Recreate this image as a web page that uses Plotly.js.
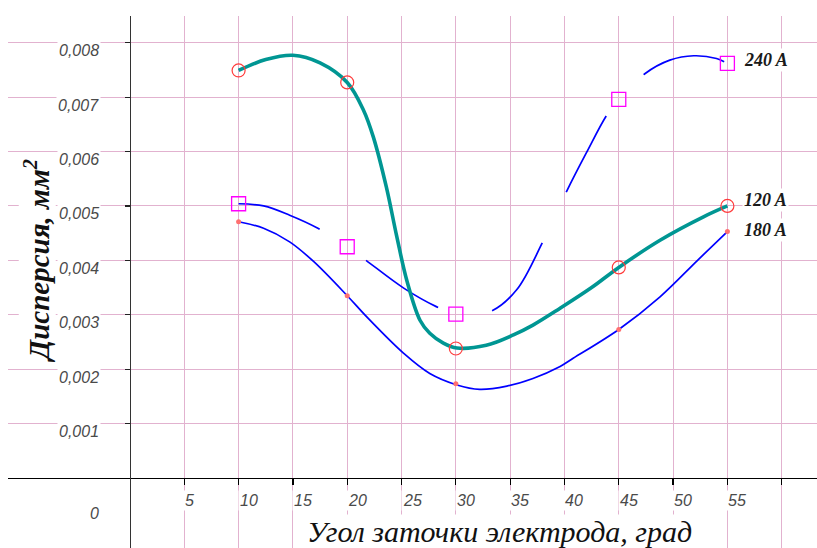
<!DOCTYPE html>
<html>
<head>
<meta charset="utf-8">
<script src="https://cdn.plot.ly/plotly-3.0.1.min.js"></script>
<style>
html,body{margin:0;padding:0;background:#fff;}
#chart{width:817px;height:548px;}
</style>
</head>
<body>
<div id="chart"></div>
<script>
// ---- data (dispersion in mm^2, angle in degrees) ----
const angles = [10, 20, 30, 45, 55];
const disp120 = [0.00749, 0.00727, 0.00238, 0.00387, 0.00500];
const disp180 = [0.00471, 0.00335, 0.00173, 0.00273, 0.00453];
const disp240 = [0.00504, 0.00425, 0.00301, 0.00696, 0.00762];

// curves as drawn in the picture
const curve120X = [10, 12.5, 15, 17.5, 20, 21.5, 22.4, 23.6, 24.55, 25.5, 26.7, 27.6, 28.85, 30.1, 32.8, 35.3, 37.1, 39.6, 42.5, 45, 48.8, 52.8, 55];
const curve120Y = [0.00749, 0.00769, 0.00777, 0.00763, 0.00727, 0.00676, 0.00627, 0.00535, 0.00445, 0.00362, 0.00290, 0.00266, 0.00248, 0.00239, 0.00244, 0.00263, 0.00281, 0.00312, 0.00350, 0.00387, 0.00437, 0.00480, 0.00500];
const curve180X = [10, 12.3, 14.7, 16.9, 20, 21.8, 25.2, 27.6, 30.1, 32.2, 34.7, 37.1, 39.6, 40.8, 45, 48.8, 52.3, 55];
const curve180Y = [0.00471, 0.00459, 0.00434, 0.00398, 0.00335, 0.00296, 0.00229, 0.00192, 0.00171, 0.00163, 0.00169, 0.00183, 0.00205, 0.00220, 0.00273, 0.00333, 0.00401, 0.00453];
const curve240X = [10, 12.3, 14.7, 17.3, 20, 21.6, 25.2, 28.2, 30, 31.5, 33.3, 35.6, 38, 40.2, 42, 43.9, 45, 47.4, 49.7, 51.9, 54, 55];
const curve240Y = [0.00504, 0.00500, 0.00483, 0.00459, 0.00425, 0.00402, 0.00349, 0.00315, 0.00301, 0.00300, 0.00307, 0.00346, 0.00434, 0.00527, 0.00597, 0.00667, 0.00696, 0.00743, 0.00768, 0.00776, 0.00771, 0.00762];

const seriesNames = ['120 A', '180 A', '240 A'];

// ---- axes / ticks ----
const xGridVals = [5, 10, 15, 20, 25, 30, 35, 40, 45, 50, 55, 60];
const xTickVals = [5, 10, 15, 20, 25, 30, 35, 40, 45, 50, 55];
const xTickText = ['5', '10', '15', '20', '25', '30', '35', '40', '45', '50', '55'];
const yTickVals = [0.001, 0.002, 0.003, 0.004, 0.005, 0.006, 0.007, 0.008];
const yTickText = ['0,001', '0,002', '0,003', '0,004', '0,005', '0,006', '0,007', '0,008'];
const originLabel = '0';
const xTitle = 'Угол заточки электрода, град';
const yTitle = 'Дисперсия, мм<sup>2</sup>';

const BLUE = '#0000ff', TEAL = '#009693';
const tickFont = {family: '"Liberation Sans", Arial, sans-serif', size: 16, color: '#4a4a4a', style: 'italic'};
const serifBI = {family: '"Liberation Serif", "DejaVu Serif", serif', size: 18, color: '#1a1a1a', style: 'italic', weight: 'bold'};

const traces = [
  {x: curve180X, y: curve180Y, mode: 'lines', line: {color: BLUE, width: 1.7, shape: 'spline', smoothing: 1}, hoverinfo: 'skip'},
  {x: curve240X, y: curve240Y, mode: 'lines', line: {color: BLUE, width: 1.7, shape: 'spline', smoothing: 1, dash: '86px,56px'}, hoverinfo: 'skip'},
  {x: curve120X, y: curve120Y, mode: 'lines', line: {color: TEAL, width: 3.6, shape: 'spline', smoothing: 1}, hoverinfo: 'skip'},
  {x: angles, y: disp180, mode: 'markers', marker: {symbol: 'circle', size: 5, color: '#ff7070'}, name: seriesNames[1]},
  {x: angles, y: disp240, mode: 'markers', marker: {symbol: 'square-open', size: 14, color: '#ff00ff', line: {width: 1.3, color: '#ff00ff'}}, name: seriesNames[2]},
  {x: angles, y: disp120, mode: 'markers', marker: {symbol: 'circle-open', size: 13, color: '#ff3b3b', line: {width: 1.2, color: '#ff3b3b'}}, name: seriesNames[0]}
];

const annotations = [];
xTickVals.forEach((v, i) => annotations.push({
  x: v, y: 0, xref: 'x', yref: 'y', text: xTickText[i], showarrow: false,
  xanchor: 'left', yanchor: 'middle', xshift: -1, yshift: -22,
  font: tickFont, bgcolor: '#ffffff', borderpad: 1
}));
yTickVals.forEach((v, i) => annotations.push({
  x: 0, y: v, xref: 'x', yref: 'y', text: yTickText[i], showarrow: false,
  xanchor: 'right', yanchor: 'middle', xshift: -29, yshift: -8,
  font: tickFont, bgcolor: '#ffffff', borderpad: 1
}));
annotations.push({x: 0, y: 0, xref: 'x', yref: 'y', text: originLabel, showarrow: false,
  xanchor: 'center', yanchor: 'middle', xshift: -35, yshift: -35, font: tickFont});

// series labels at the right end
const lastIdx = angles.length - 1;
const labelY = [disp120[lastIdx], disp180[lastIdx], disp240[lastIdx]];
const labelShift = [6, 2, 3];
seriesNames.forEach((n, i) => annotations.push({
  x: angles[lastIdx], y: labelY[i], xref: 'x', yref: 'y', text: n, showarrow: false,
  xanchor: 'left', yanchor: 'middle', xshift: 15, yshift: labelShift[i],
  font: serifBI, bgcolor: '#ffffff', borderpad: 1
}));

// axis titles
annotations.push({x: 0.608, y: 0.031, xref: 'paper', yref: 'paper', text: xTitle, showarrow: false,
  xanchor: 'center', yanchor: 'middle',
  font: {family: '"Liberation Serif", "DejaVu Serif", serif', size: 30, color: '#111', style: 'italic'},
  bgcolor: '#ffffff', borderpad: 0});
annotations.push({x: 0.0358, y: 0.54, xref: 'paper', yref: 'paper', text: yTitle, showarrow: false,
  xanchor: 'center', yanchor: 'middle', textangle: -90,
  font: {family: '"Liberation Serif", "DejaVu Serif", serif', size: 29, color: '#111', style: 'italic', weight: 'bold'},
  bgcolor: '#ffffff', borderpad: 0});

const layout = {
  width: 817, height: 548,
  margin: {l: 8, r: 0, t: 16, b: 0, pad: 0},
  paper_bgcolor: '#ffffff', plot_bgcolor: '#ffffff',
  showlegend: false,
  xaxis: {
    range: [-11.23, 63.25], anchor: 'free', position: 0.13158, side: 'bottom',
    tickmode: 'array', tickvals: xGridVals, showticklabels: false,
    ticks: 'outside', ticklen: 6, tickcolor: '#000', tickwidth: 1.2,
    showline: true, linecolor: '#000', linewidth: 1.3,
    showgrid: true, gridcolor: '#e2b2cf', gridwidth: 1, zeroline: false, fixedrange: true
  },
  yaxis: {
    range: [-0.0012865, 0.008491], anchor: 'free', position: 0.1508, side: 'left',
    tickmode: 'array', tickvals: yTickVals, showticklabels: false,
    ticks: 'outside', ticklen: 5, tickcolor: '#222', tickwidth: 1.2,
    showline: true, linecolor: '#333', linewidth: 1.3,
    showgrid: true, gridcolor: '#e2b2cf', gridwidth: 1, zeroline: false, fixedrange: true
  },
  annotations: annotations
};

Plotly.newPlot('chart', traces, layout, {displayModeBar: false, staticPlot: true});
</script>
</body>
</html>
